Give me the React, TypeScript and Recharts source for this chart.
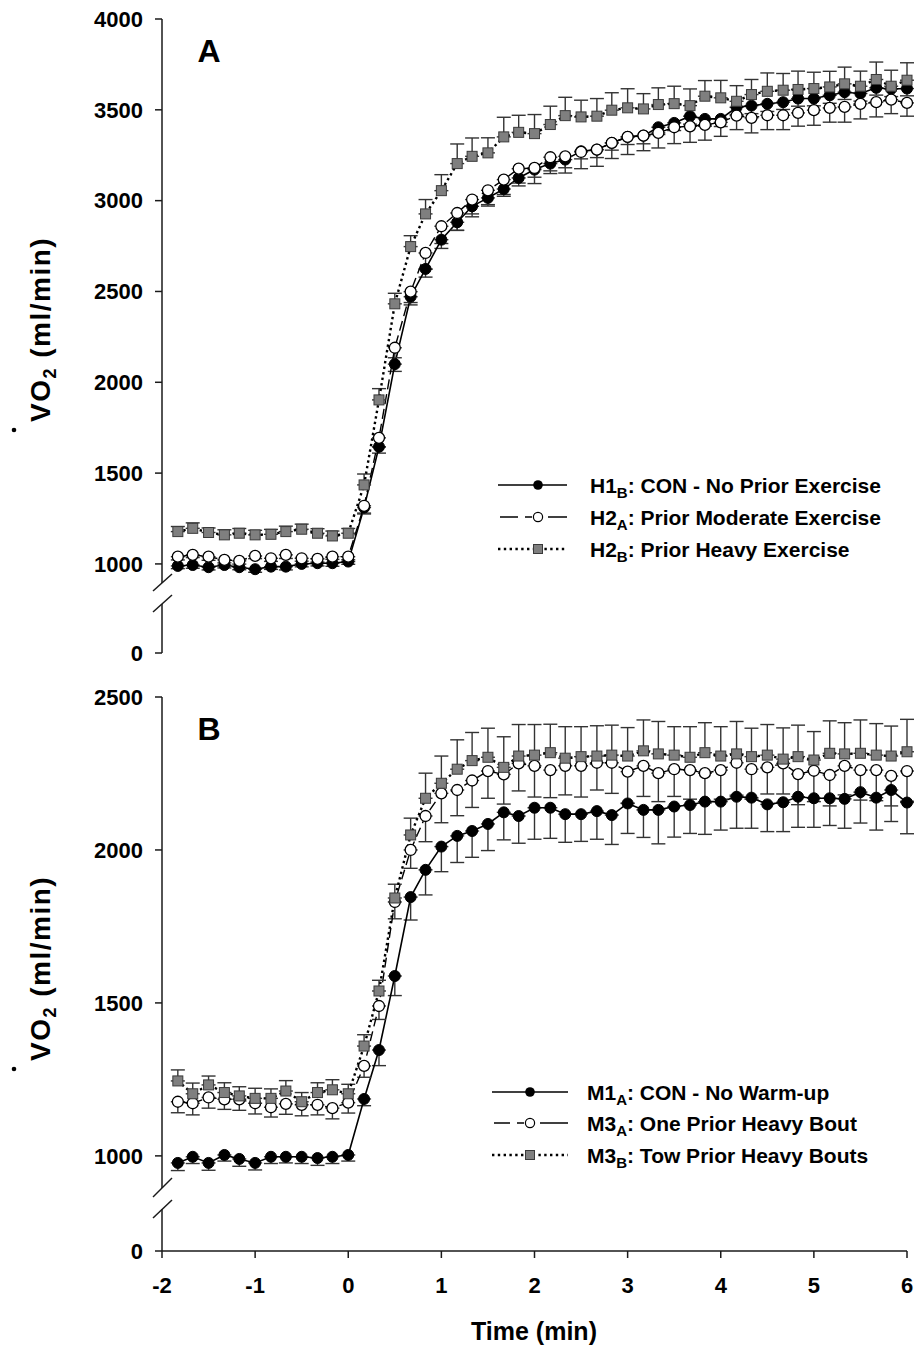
import React from 'react';
import { ComposedChart, Line, XAxis, YAxis, ErrorBar } from 'recharts';

const FONT = '"Liberation Sans", Arial, Helvetica, sans-serif';

// time (min)
const times = [-1.83, -1.67, -1.5, -1.33, -1.17, -1, -0.83, -0.67, -0.5, -0.33, -0.17, 0,
  0.17, 0.33, 0.5, 0.67, 0.83, 1, 1.17, 1.33, 1.5, 1.67, 1.83, 2, 2.17, 2.33, 2.5, 2.67, 2.83, 3,
  3.17, 3.33, 3.5, 3.67, 3.83, 4, 4.17, 4.33, 4.5, 4.67, 4.83, 5, 5.17, 5.33, 5.5, 5.67, 5.83, 6];

// Panel A
const aH1B = [989, 994, 982, 994, 982, 971, 985, 985, 1000, 1004, 1004, 1013, 1310, 1645, 2100, 2471,
  2624, 2785, 2881, 2969, 3015, 3064, 3125, 3171, 3204, 3226, 3272, 3281, 3318, 3351, 3358, 3404,
  3428, 3465, 3450, 3450, 3514, 3523, 3533, 3542, 3562, 3562, 3580, 3597, 3590, 3621, 3615, 3617];
const aH1BErr = [15, 18, 15, 16, 14, 17, 15, 18, 16, 15, 17, 15, 30, 35, 40, 45,
  45, 48, 45, 42, 45, 40, 44, 42, 40, 45, 42, 44, 40, 42, 45, 40,
  42, 44, 40, 42, 40, 44, 42, 40, 42, 40, 44, 40, 42, 40, 42, 40];
const aH2A = [1040, 1050, 1040, 1022, 1017, 1044, 1031, 1050, 1031, 1028, 1040, 1040, 1320, 1694, 2190, 2499,
  2712, 2859, 2932, 3006, 3057, 3116, 3176, 3180, 3239, 3244, 3268, 3281, 3318, 3351, 3358, 3373,
  3404, 3409, 3417, 3431, 3468, 3456, 3470, 3470, 3483, 3498, 3511, 3516, 3533, 3542, 3556, 3538];
const aH2AErr = [18, 15, 20, 16, 18, 15, 17, 20, 16, 18, 15, 17, 45, 50, 55, 60,
  90, 95, 95, 95, 79, 82, 79, 86, 90, 92, 92, 92, 86, 97, 83, 83,
  90, 88, 84, 77, 77, 83, 79, 79, 73, 83, 79, 84, 83, 81, 77, 73];
const aH2B = [1178, 1196, 1173, 1160, 1169, 1160, 1163, 1178, 1191, 1169, 1154, 1169, 1435, 1903, 2432, 2747,
  2927, 3055, 3204, 3244, 3263, 3351, 3376, 3369, 3419, 3468, 3461, 3465, 3498, 3511, 3505, 3529,
  3534, 3523, 3575, 3566, 3547, 3584, 3602, 3608, 3612, 3617, 3626, 3643, 3630, 3667, 3630, 3663];
const aH2BErr = [28, 30, 25, 28, 26, 25, 27, 30, 28, 25, 27, 26, 60, 62, 58, 60,
  79, 88, 108, 101, 83, 108, 94, 105, 101, 101, 92, 97, 96, 105, 84, 92,
  96, 92, 86, 96, 86, 83, 101, 92, 101, 90, 86, 92, 83, 96, 88, 96];

// Panel B
const bM1A = [977, 997, 977, 1003, 990, 977, 997, 997, 997, 993, 997, 1003, 1186, 1346, 1588, 1846,
  1935, 2011, 2046, 2062, 2085, 2123, 2111, 2138, 2138, 2117, 2117, 2127, 2114, 2152, 2131, 2131,
  2142, 2147, 2158, 2158, 2174, 2171, 2149, 2156, 2174, 2169, 2169, 2167, 2189, 2171, 2196, 2155];
const bM1AErr = [25, 22, 24, 20, 24, 23, 22, 20, 22, 24, 22, 20, 22, 51, 64, 75,
  82, 82, 87, 86, 87, 90, 89, 103, 100, 92, 89, 92, 96, 98, 90, 111,
  100, 93, 107, 93, 103, 100, 89, 96, 100, 95, 89, 96, 101, 106, 103, 102];
const bM3A = [1177, 1172, 1191, 1185, 1185, 1172, 1159, 1170, 1167, 1167, 1156, 1174, 1294, 1490, 1830, 2000,
  2111, 2185, 2196, 2227, 2258, 2247, 2283, 2275, 2261, 2275, 2275, 2285, 2285, 2256, 2275, 2251,
  2264, 2261, 2251, 2261, 2285, 2264, 2270, 2283, 2248, 2259, 2245, 2275, 2261, 2261, 2242, 2258];
const bM3AErr = [36, 38, 35, 33, 36, 35, 32, 34, 36, 33, 35, 34, 37, 44, 55, 60,
  84, 96, 84, 88, 89, 97, 90, 102, 90, 95, 102, 89, 100, 103, 100, 93,
  89, 95, 97, 95, 106, 98, 87, 100, 100, 101, 101, 95, 98, 100, 98, 99];
const bM3B = [1245, 1203, 1232, 1207, 1196, 1188, 1188, 1212, 1177, 1207, 1216, 1203, 1359, 1539, 1843, 2049,
  2169, 2218, 2264, 2292, 2303, 2270, 2307, 2310, 2318, 2300, 2305, 2307, 2310, 2307, 2324, 2314,
  2310, 2303, 2318, 2307, 2314, 2305, 2310, 2297, 2305, 2294, 2316, 2314, 2316, 2310, 2307, 2321];
const bM3BErr = [36, 35, 29, 32, 30, 33, 31, 34, 30, 32, 33, 31, 37, 35, 45, 55,
  82, 89, 96, 92, 95, 100, 103, 100, 93, 103, 98, 99, 98, 93, 101, 106,
  93, 100, 98, 96, 106, 93, 100, 102, 103, 93, 106, 102, 109, 103, 98, 106];

const xTicks = [-2, -1, 0, 1, 2, 3, 4, 5, 6];
const aTicks = [1000, 1500, 2000, 2500, 3000, 3500, 4000];
const bTicks = [1000, 1500, 2000, 2500];
const zeroTick = [0];

const legendA = ['H1|B|: CON - No Prior Exercise', 'H2|A|: Prior Moderate Exercise', 'H2|B|: Prior Heavy Exercise'];
const legendB = ['M1|A|: CON - No Warm-up', 'M3|A|: One Prior Heavy Bout', 'M3|B|: Tow Prior Heavy Bouts'];

const dataA = times.map((t, i) => ({
  t,
  s1: aH1B[i], e1: [aH1BErr[i], 0],
  s2: aH2A[i], e2: [aH2AErr[i], 0],
  s3: aH2B[i], e3: [0, aH2BErr[i]],
}));
const dataB = times.map((t, i) => ({
  t,
  s1: bM1A[i], e1: [bM1AErr[i], 0],
  s2: bM3A[i], e2: [bM3AErr[i], 0],
  s3: bM3B[i], e3: [0, bM3BErr[i]],
}));

const AXIS = '#1a1a1a';
const tickStyle = { fontSize: 22, fontWeight: 'bold', fill: '#000', fontFamily: FONT };

const BlackDot = (p: any) => (
  <circle key={`b-${p.index}`} cx={p.cx} cy={p.cy} r={5.5} fill="#000" stroke="#000" strokeWidth={1} />
);
const WhiteDot = (p: any) => (
  <circle key={`w-${p.index}`} cx={p.cx} cy={p.cy} r={5.5} fill="#fff" stroke="#000" strokeWidth={1.3} />
);
const SquareDot = (p: any) => (
  <rect key={`s-${p.index}`} x={p.cx - 5} y={p.cy - 5} width={10} height={10} fill="#7f7f7f" stroke="#3a3a3a" strokeWidth={1} />
);

function Series() {
  return [
    <Line key="s1" dataKey="s1" type="linear" stroke="#000" strokeWidth={1.6} dot={BlackDot} activeDot={false} isAnimationActive={false}>
      <ErrorBar dataKey="e1" direction="y" width={7} stroke="#333" strokeWidth={1.4} isAnimationActive={false} />
    </Line>,
    <Line key="s2" dataKey="s2" type="linear" stroke="#000" strokeWidth={1.4} strokeDasharray="10 5" dot={WhiteDot} activeDot={false} isAnimationActive={false}>
      <ErrorBar dataKey="e2" direction="y" width={7} stroke="#333" strokeWidth={1.4} isAnimationActive={false} />
    </Line>,
    <Line key="s3" dataKey="s3" type="linear" stroke="#000" strokeWidth={2.4} strokeDasharray="2.4 3.2" dot={SquareDot} activeDot={false} isAnimationActive={false}>
      <ErrorBar dataKey="e3" direction="y" width={7} stroke="#333" strokeWidth={1.4} isAnimationActive={false} />
    </Line>,
  ];
}

function UpperChart({ top, height, mt, mb, domain, ticks, data }: any) {
  return (
    <div style={{ position: 'absolute', left: 0, top, width: 917, height }}>
      <ComposedChart width={917} height={height} data={data} margin={{ top: mt, right: 10, bottom: mb, left: 0 }}>
        <XAxis dataKey="t" type="number" domain={[-2, 6]} ticks={xTicks} hide />
        <YAxis type="number" domain={domain} ticks={ticks} allowDataOverflow interval={0} width={162}
          tickSize={7} tickMargin={12} tick={tickStyle}
          axisLine={{ stroke: AXIS, strokeWidth: 1.5 }} tickLine={{ stroke: AXIS, strokeWidth: 1.5 }} />
        {Series()}
      </ComposedChart>
    </div>
  );
}

function LowerChart({ top, height, mt, mb, domain, data, showX }: any) {
  return (
    <div style={{ position: 'absolute', left: 0, top, width: 917, height }}>
      <ComposedChart width={917} height={height} data={data} margin={{ top: mt, right: 10, bottom: mb, left: 0 }}>
        <XAxis dataKey="t" type="number" domain={[-2, 6]} ticks={xTicks} interval={0} hide={!showX} height={90}
          tickSize={7} tickMargin={19} tick={tickStyle}
          axisLine={{ stroke: AXIS, strokeWidth: 1.5 }} tickLine={{ stroke: AXIS, strokeWidth: 1.5 }} />
        <YAxis type="number" domain={domain} ticks={zeroTick} allowDataOverflow interval={0} width={162}
          tickSize={7} tickMargin={12} tick={tickStyle}
          axisLine={{ stroke: AXIS, strokeWidth: 1.5 }} tickLine={{ stroke: AXIS, strokeWidth: 1.5 }} />
        <Line dataKey="none" stroke="none" dot={false} activeDot={false} isAnimationActive={false} />
      </ComposedChart>
    </div>
  );
}

function LegendLabel({ x, y, label }: any) {
  const [main, sub, rest] = label.split('|');
  return (
    <text x={x} y={y} fontSize={21} fontWeight="bold" fontFamily={FONT} fill="#000">
      {main}<tspan fontSize={15} dy={5}>{sub}</tspan><tspan dy={-5}>{rest}</tspan>
    </text>
  );
}

function LegendBox({ rows, x1, x2, mx, tx, labels }: any) {
  return (
    <g>
      {/* solid */}
      <line x1={x1} y1={rows[0]} x2={x2} y2={rows[0]} stroke="#000" strokeWidth={1.6} />
      <circle cx={mx} cy={rows[0]} r={4.8} fill="#000" />
      {/* dashed */}
      <line x1={x1 + 2} y1={rows[1]} x2={mx - 20} y2={rows[1]} stroke="#000" strokeWidth={1.5} />
      <line x1={mx - 13} y1={rows[1]} x2={mx - 6} y2={rows[1]} stroke="#000" strokeWidth={1.5} />
      <line x1={mx + 10} y1={rows[1]} x2={x2} y2={rows[1]} stroke="#000" strokeWidth={1.5} />
      <circle cx={mx} cy={rows[1]} r={4.6} fill="#fff" stroke="#000" strokeWidth={1.2} />
      {/* dotted */}
      <line x1={x1} y1={rows[2]} x2={x2} y2={rows[2]} stroke="#000" strokeWidth={2.4} strokeDasharray="2.4 3.4" />
      <rect x={mx - 4.5} y={rows[2] - 4.5} width={9} height={9} fill="#7f7f7f" stroke="#3a3a3a" strokeWidth={1} />
      {labels.map((l: string, i: number) => (
        <LegendLabel key={i} x={tx} y={rows[i] + 7.5} label={l} />
      ))}
    </g>
  );
}

function YTitle({ cx, cy }: any) {
  return (
    <g transform={`translate(${cx}, ${cy}) rotate(-90)`}>
      <text x={-93} y={0} fontSize={28} fontWeight="bold" fontFamily={FONT} letterSpacing={1.5} fill="#000">
        VO<tspan fontSize={18} dy={6}>2</tspan><tspan dy={-6}> (ml/min)</tspan>
      </text>
      <circle cx={-101} cy={-36} r={2.3} fill="#000" />
    </g>
  );
}

function Overlay() {
  return (
    <svg width={917} height={1346} style={{ position: 'absolute', left: 0, top: 0, pointerEvents: 'none' }}>
      <text x={209} y={62} textAnchor="middle" fontSize={32} fontWeight="bold" fontFamily={FONT}>A</text>
      <text x={209} y={740} textAnchor="middle" fontSize={32} fontWeight="bold" fontFamily={FONT}>B</text>
      {/* axis breaks */}
      <line x1={153} y1={591} x2={172} y2={574} stroke={AXIS} strokeWidth={1.5} />
      <line x1={153} y1={612} x2={172} y2={595} stroke={AXIS} strokeWidth={1.5} />
      <line x1={153} y1={1197} x2={172} y2={1178} stroke={AXIS} strokeWidth={1.5} />
      <line x1={153} y1={1218} x2={172} y2={1200} stroke={AXIS} strokeWidth={1.5} />
      <YTitle cx={50} cy={329} />
      <YTitle cx={50} cy={968} />
      <LegendBox rows={[485, 517, 549]} x1={498} x2={567} mx={538} tx={590} labels={legendA} />
      <LegendBox rows={[1092, 1123, 1155]} x1={492} x2={568} mx={530} tx={587} labels={legendB} />
      <text x={534} y={1340} textAnchor="middle" fontSize={25} fontWeight="bold" fontFamily={FONT}>Time (min)</text>
    </svg>
  );
}

export default function App() {
  return (
    <div style={{ position: 'absolute', left: 0, top: 0, width: 917, height: 1346, background: '#fff', fontFamily: FONT }}>
      <UpperChart top={0} height={600} mt={19} mb={17} domain={[895, 4000]} ticks={aTicks} data={dataA} />
      <LowerChart top={590} height={80} mt={14} mb={17} domain={[0, 270]} data={dataA} showX={false} />
      <UpperChart top={680} height={520} mt={17} mb={12} domain={[895, 2500]} ticks={bTicks} data={dataB} />
      <LowerChart top={1195} height={151} mt={14} mb={5} domain={[0, 137]} data={dataB} showX={true} />
      <Overlay />
    </div>
  );
}
